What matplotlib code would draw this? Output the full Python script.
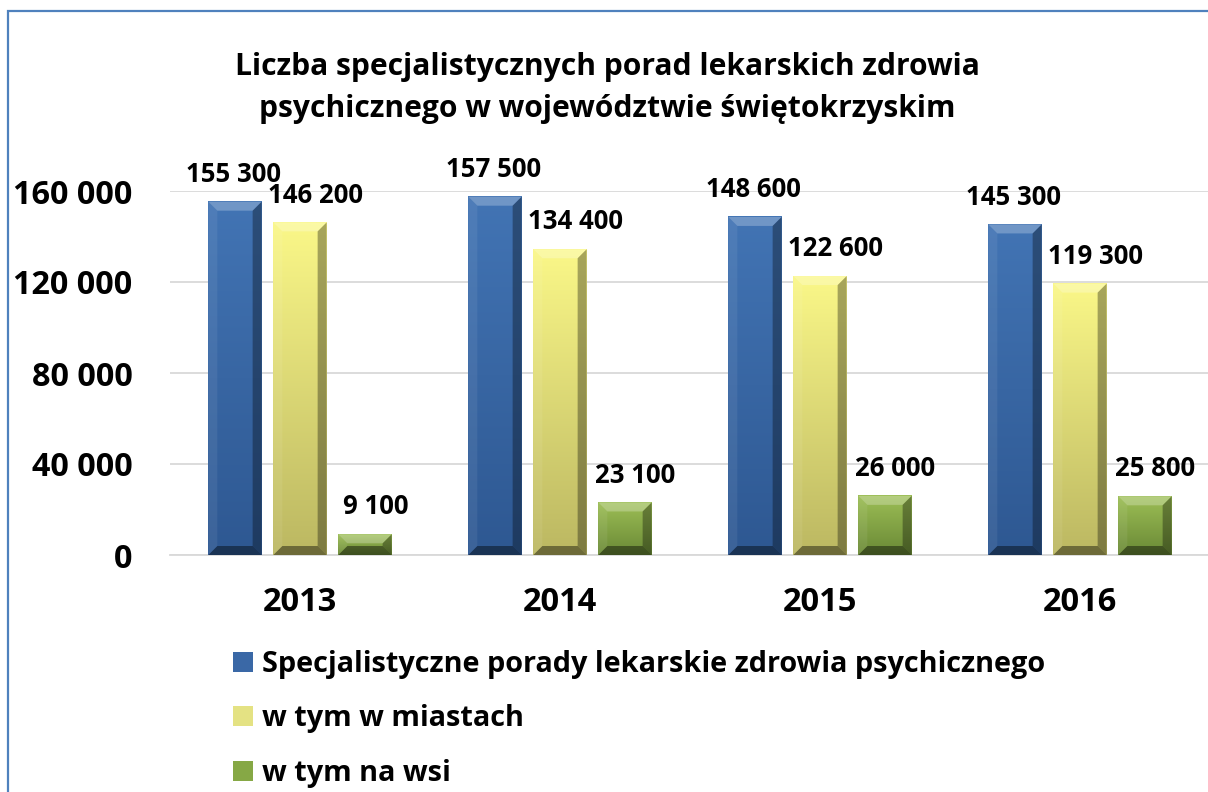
import matplotlib
matplotlib.use("Agg")
import matplotlib.pyplot as plt
from matplotlib.patches import Polygon, Rectangle, Patch
from matplotlib.colors import to_rgb
import numpy as np

years = ["2013", "2014", "2015", "2016"]
series_names = ["Specjalistyczne porady lekarskie zdrowia psychicznego",
                "w tym w miastach", "w tym na wsi"]
total = [155300, 157500, 148600, 145300]
city = [146200, 134400, 122600, 119300]
rural = [9100, 23100, 26000, 25800]
labels_total = ["155 300", "157 500", "148 600", "145 300"]
labels_city = ["146 200", "134 400", "122 600", "119 300"]
labels_rural = ["9 100", "23 100", "26 000", "25 800"]
yticks = [0, 40000, 80000, 120000, 160000]
ytick_labels = ["0", "40 000", "80 000", "120 000", "160 000"]
title_lines = ["Liczba specjalistycznych porad lekarskich zdrowia",
               "psychicznego w województwie świętokrzyskim"]

FONT = ["Open Sans", "DejaVu Sans"]
plt.rcParams['font.family'] = FONT

W, H = 1208, 792
fig = plt.figure(figsize=(W / 100, H / 100), dpi=100)
ax = fig.add_axes([170 / W, (H - 555) / H, 1040 / W, (555 - 191) / H])
ax.set_xlim(-0.5, 3.5)
ax.set_ylim(0, 160000)

# gradient colours (top -> bottom) and legend colour
schemes = [
    dict(top="#4274B4", bot="#2E5892", leg="#3A68A6"),
    dict(top="#FAF788", bot="#BCB862", leg="#E4E283"),
    dict(top="#9CBE55", bot="#6A8936", leg="#86A845"),
]

x = np.arange(len(years))
offs = [-0.25, 0.0, 0.25]
width = 0.205
data = [total, city, rural]
lbls = [labels_total, labels_city, labels_rural]
lbl_dx = [-0.005, 0.06, 0.04]

fig.canvas.draw()
inv = ax.transData.inverted()

def D(pts):
    return inv.transform(np.array(pts))

for si, (vals, sch) in enumerate(zip(data, schemes)):
    bars = ax.bar(x + offs[si], vals, width=width, color=sch["leg"], zorder=2, linewidth=0)
    ct, cb = np.array(to_rgb(sch["top"])), np.array(to_rgb(sch["bot"]))
    grad = np.linspace(0, 1, 64)[:, None, None]
    img = ct[None, None, :] * (1 - grad) + cb[None, None, :] * grad
    for b in bars:
        x0, y0 = b.get_x(), b.get_y()
        x1, y1 = x0 + b.get_width(), y0 + b.get_height()
        ax.imshow(img, extent=(x0, x1, y0, y1), aspect="auto", origin="upper", zorder=3,
                  interpolation="bilinear")
        (px0, py0) = ax.transData.transform((x0, y0))
        (px1, py1) = ax.transData.transform((x1, y1))
        bv = min(9, (py1 - py0) / 2.2)
        outer = [(px0, py0), (px1, py0), (px1, py1), (px0, py1)]
        inner = [(px0 + bv, py0 + bv), (px1 - bv, py0 + bv), (px1 - bv, py1 - bv), (px0 + bv, py1 - bv)]
        polys = [
            ([outer[3], outer[2], inner[2], inner[3]], "white", 0.25),
            ([outer[0], outer[1], inner[1], inner[0]], "black", 0.42),
            ([outer[0], inner[0], inner[3], outer[3]], "white", 0.07),
            ([outer[1], outer[2], inner[2], inner[1]], "black", 0.33),
        ]
        for pts, c, a in polys:
            ax.add_patch(Polygon(D(pts), closed=True, facecolor=c, alpha=a, edgecolor="none", zorder=4))
    for xi, v, t in zip(x, vals, lbls[si]):
        ax.annotate(t, (xi + offs[si] + lbl_dx[si], v), xytext=(0, 10), textcoords="offset points",
                    ha="center", va="bottom", zorder=5,
                    fontproperties=dict(family=FONT, weight="bold", size=18.5))

ax.set_xlim(-0.5, 3.5)
ax.set_ylim(0, 160000)
ax.set_yticks(yticks)
ax.set_yticklabels(ytick_labels, fontsize=23.3, fontweight="bold")
ax.set_xticks(x)
ax.set_xticklabels(years, fontsize=23.5, fontweight="bold")
ax.tick_params(axis="y", length=0, pad=27)
ax.tick_params(axis="x", length=0, pad=22)
ax.grid(axis="y", color="#D9D9D9", linewidth=1.3, zorder=0)
ax.set_axisbelow(True)
for s in ["top", "right", "left"]:
    ax.spines[s].set_visible(False)
ax.spines["bottom"].set_color("#D9D9D9")
ax.spines["bottom"].set_linewidth(1.3)

for i, line in enumerate(title_lines):
    fig.text(607 / W, 1 - (75 + 42 * i) / H, line, ha="center", va="baseline", fontsize=21.6,
             fontweight="bold")

handles = [Patch(facecolor=s["leg"], edgecolor="none") for s in schemes]
fig.legend(handles, series_names, loc="upper left", bbox_to_anchor=(233 / W, 1 - 650 / H),
           frameon=False, handlelength=0.68, handleheight=0.68, handletextpad=0.31,
           labelspacing=0.88, prop=dict(family=FONT, weight="bold", size=20.8),
           borderpad=0, borderaxespad=0)

# border
fig.patches.append(Rectangle((8 / W, -0.1), 1.2, (H - 11) / H + 0.1, transform=fig.transFigure,
                             facecolor="none", edgecolor="#4F81BD", linewidth=1.6, zorder=10))

fig.savefig("out.png", dpi=100)
